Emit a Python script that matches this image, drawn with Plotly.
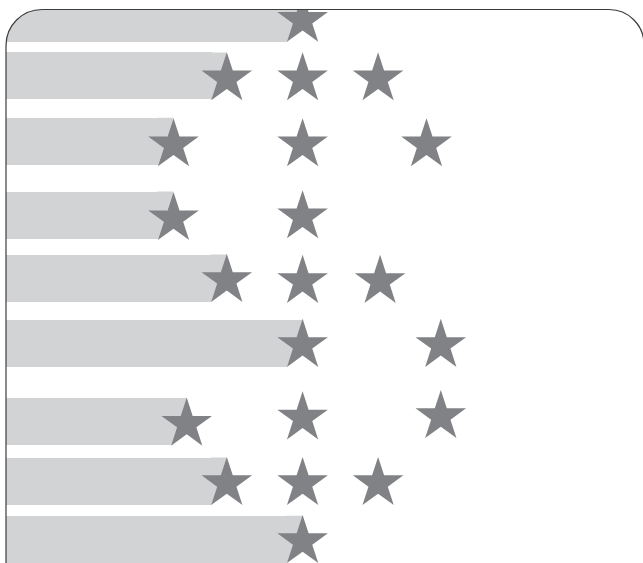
import plotly.graph_objects as go

# ---- data (horizontal units / vertical units measured from the plot origin) ----
row_pos = [8.7, 65.9, 131.3, 205.0, 268.0, 333.5, 411.4, 471.0, 529.3]
bar_len = [296.6, 220.8, 167.5, 167.5, 220.8, 296.6, 180.7, 220.8, 296.6]

star_x = [296.6,
          220.8, 296.6, 372.1,
          167.5, 296.6, 420.5,
          167.5, 296.6,
          220.8, 296.6, 374.1,
          296.6, 434.8,
          180.7, 296.6, 434.8,
          220.8, 296.6, 372.1,
          296.6]
star_y = [10.3,
          68.8, 68.8, 68.8,
          134.8, 134.8, 134.8,
          208.6, 206.8,
          270.4, 271.4, 271.4,
          335.4, 335.4,
          414.2, 407.9, 406.5,
          473.5, 473.5, 473.5,
          531.5]

BAR_COLOR = "#d1d3d4"
STAR_COLOR = "#808285"
BORDER_COLOR = "#3c3c3c"

W, H = 643, 563
ML, MT = 6, 10
PW, PH = W - ML, H - MT
BAR_H = 47
SLOPE = 0.588 / 1.809          # slant of the bar end (follows the star's edge)
SLANT = SLOPE * BAR_H

fig = go.Figure()
# rectangular body of each bar
fig.add_trace(go.Bar(
    x=[v - SLANT for v in bar_len], y=row_pos, base=0, orientation="h", width=BAR_H,
    marker=dict(color=BAR_COLOR, line=dict(width=0)),
    hoverinfo="skip", showlegend=False,
))
# slanted end cap of each bar (derived from the bar values)
cap_x, cap_y = [], []
for v, c in zip(bar_len, row_pos):
    t, b = c - BAR_H / 2, c + BAR_H / 2
    cap_x += [v - SLANT - 1, v, v - SLANT, v - SLANT - 1, None]
    cap_y += [t, t, b, b, None]
fig.add_trace(go.Scatter(
    x=cap_x, y=cap_y, mode="lines", fill="toself", fillcolor=BAR_COLOR,
    line=dict(width=0, color=BAR_COLOR), hoverinfo="skip", showlegend=False,
))
fig.add_trace(go.Scatter(
    x=star_x, y=star_y, mode="markers",
    marker=dict(symbol="star", size=38, color=STAR_COLOR, line=dict(width=0)),
    cliponaxis=True, hoverinfo="skip", showlegend=False,
))

# decoration: rounded frame (pixel -> paper helpers)
def px(x):
    return (x - ML) / PW

def py(y):
    return 1 - (y - MT) / PH

K = 0.5523
left, top, right = 6.0, 9.5, 644.0
r = 36.0

# white mask outside the top-left rounded corner
mask = (f"M {px(-2)},{py(-2)} L {px(left + r)},{py(-2)} L {px(left + r)},{py(top)} "
        f"C {px(left + r - K * r)},{py(top)} {px(left)},{py(top + r - K * r)} {px(left)},{py(top + r)} "
        f"L {px(-2)},{py(top + r)} Z")
fig.add_shape(type="path", path=mask, xref="paper", yref="paper",
              fillcolor="white", line=dict(width=0), layer="above")

r2 = 35.0
frame = (f"M {px(left)},{py(H + 5)} L {px(left)},{py(top + r)} "
         f"C {px(left)},{py(top + r - K * r)} {px(left + r - K * r)},{py(top)} {px(left + r)},{py(top)} "
         f"L {px(right - r2)},{py(top)} "
         f"C {px(right - r2 + K * r2)},{py(top)} {px(right)},{py(top + r2 - K * r2)} {px(right)},{py(top + r2)} "
         f"L {px(right)},{py(H + 5)}")
fig.add_shape(type="path", path=frame, xref="paper", yref="paper",
              line=dict(color=BORDER_COLOR, width=1.2), layer="above")

fig.update_layout(
    width=W, height=H,
    margin=dict(l=ML, r=0, t=MT, b=0, pad=0),
    paper_bgcolor="white", plot_bgcolor="white",
    bargap=0,
    xaxis=dict(range=[0, PW], visible=False, showgrid=False, zeroline=False, fixedrange=True),
    yaxis=dict(range=[PH, 0], visible=False, showgrid=False, zeroline=False, fixedrange=True),
    showlegend=False,
)

fig.write_html(
    "out.html",
    config={"displayModeBar": False},
    post_script="document.body.style.margin='0px';document.body.style.overflow='hidden';",
)
